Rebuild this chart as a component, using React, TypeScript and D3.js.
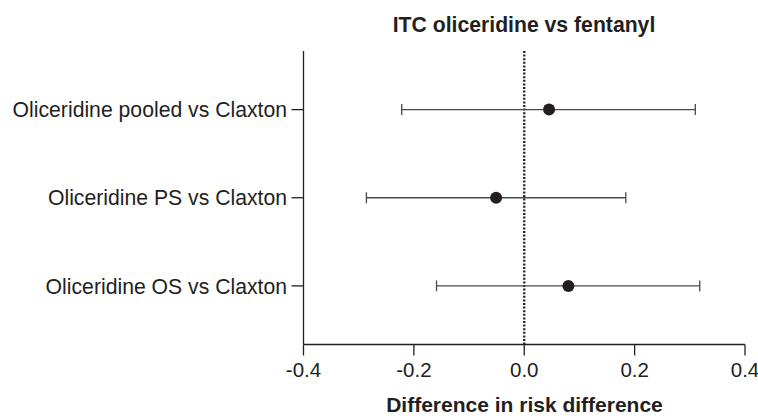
import React from "react";
import * as d3 from "d3";

const categories = [
  "Oliceridine pooled vs Claxton",
  "Oliceridine PS vs Claxton",
  "Oliceridine OS vs Claxton",
];
const estimates = [0.045, -0.051, 0.08];
const lowers = [-0.222, -0.286, -0.159];
const uppers = [0.31, 0.184, 0.318];
const xTicks = [-0.4, -0.2, 0.0, 0.2, 0.4];
const title = "ITC oliceridine vs fentanyl";
const xTitle = "Difference in risk difference";

const W = 758;
const H = 416;
const FONT = "'Liberation Sans', Arial, Helvetica, sans-serif";
const INK = "#231f20";

const fmt = (t: number) => d3.format(".1f")(t).replace("\u2212", "-");

export default function App() {
  const x = d3.scaleLinear().domain([-0.4, 0.4]).range([303.5, 745]);
  const y = d3.scalePoint<string>().domain(categories).range([51, 344.5]).padding(0.665);
  const yTop = 51;
  const yBot = 344.5;

  return (
    <svg width={W} height={H} style={{ position: "absolute", left: 0, top: 0, background: "#fff" }}>
      <text x={524} y={31.5} textAnchor="middle" fontFamily={FONT} fontWeight="bold" fontSize={21.2} fill={INK}>
        {title}
      </text>

      {/* zero reference line */}
      <line x1={x(0)} x2={x(0)} y1={yTop} y2={yBot} stroke={INK} strokeWidth={2.3} strokeDasharray="2,1.6" />

      {/* y axis */}
      <line x1={x(-0.4)} x2={x(-0.4)} y1={yTop} y2={yBot} stroke={INK} strokeWidth={1.3} />
      {categories.map((c) => (
        <g key={c}>
          <line x1={x(-0.4) - 12} x2={x(-0.4)} y1={y(c)} y2={y(c)} stroke={INK} strokeWidth={1.3} />
          <text x={x(-0.4) - 16.5} y={y(c)} dy="0.36em" textAnchor="end" fontFamily={FONT} fontSize={21.2} fill={INK}>
            {c}
          </text>
        </g>
      ))}

      {/* x axis */}
      <line x1={x(-0.4)} x2={x(0.4)} y1={yBot} y2={yBot} stroke={INK} strokeWidth={1.3} />
      {xTicks.map((t) => (
        <g key={t}>
          <line x1={x(t)} x2={x(t)} y1={yBot} y2={yBot + 11} stroke={INK} strokeWidth={1.3} />
          <text x={x(t)} y={377} textAnchor="middle" fontFamily={FONT} fontSize={20.5} fill={INK}>
            {fmt(t)}
          </text>
        </g>
      ))}
      <text x={524.5} y={412} textAnchor="middle" fontFamily={FONT} fontWeight="bold" fontSize={21} fill={INK}>
        {xTitle}
      </text>

      {/* error bars and points */}
      {categories.map((c, i) => {
        const cy = y(c) as number;
        return (
          <g key={"e" + c}>
            <line x1={x(lowers[i])} x2={x(uppers[i])} y1={cy} y2={cy} stroke="#4a4a4a" strokeWidth={1.3} />
            <line x1={x(lowers[i])} x2={x(lowers[i])} y1={cy - 5.5} y2={cy + 5.5} stroke="#4a4a4a" strokeWidth={1.3} />
            <line x1={x(uppers[i])} x2={x(uppers[i])} y1={cy - 5.5} y2={cy + 5.5} stroke="#4a4a4a" strokeWidth={1.3} />
            <circle cx={x(estimates[i])} cy={cy} r={6} fill={INK} />
          </g>
        );
      })}
    </svg>
  );
}
